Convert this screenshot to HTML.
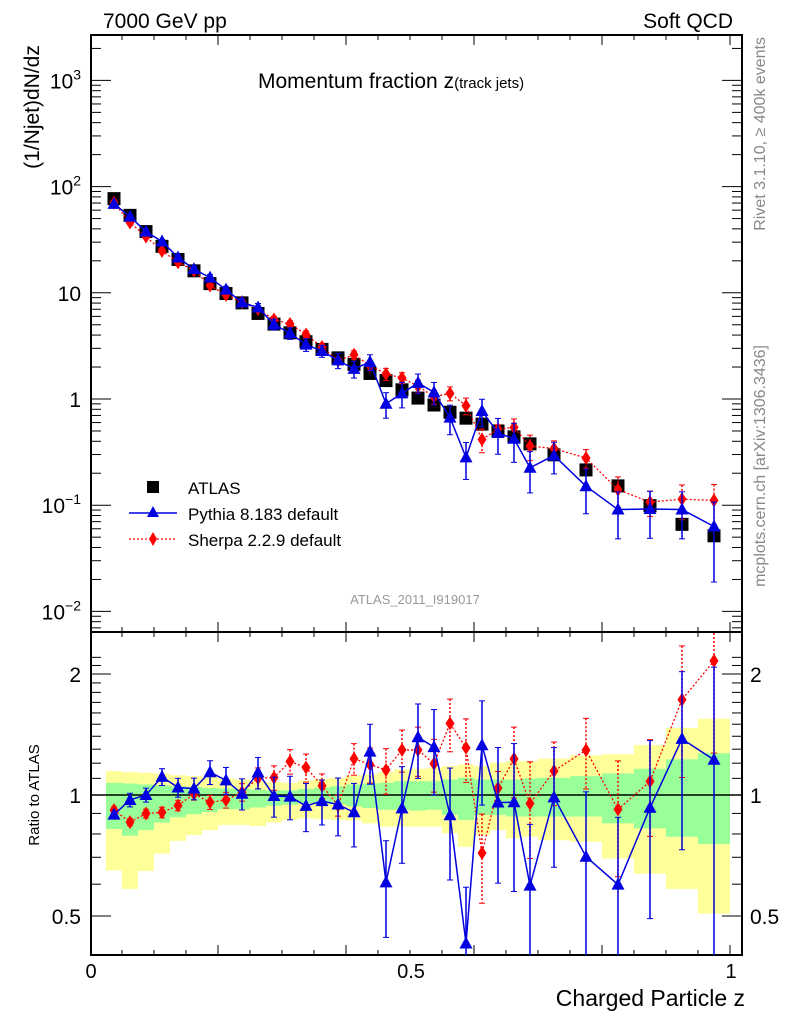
<!DOCTYPE html>
<html><head><meta charset="utf-8"><style>
html,body{margin:0;padding:0;background:#fff}
svg{display:block;font-family:"Liberation Sans",sans-serif}
</style></head><body>
<svg id="chartSvg" width="786" height="1024" viewBox="0 0 786 1024" xmlns="http://www.w3.org/2000/svg">
<defs>
<clipPath id="clipM"><rect x="91" y="35" width="651" height="597"/></clipPath>
<clipPath id="clipR"><rect x="91" y="632" width="651" height="323"/></clipPath>
</defs>
<g id="bandsLayer"></g>
<g id="axesLayer"></g>
<g id="marksLayer"></g>
<text x="103" y="28" font-size="21">7000 GeV pp</text>
<text x="733" y="28" font-size="21" text-anchor="end">Soft QCD</text>
<text x="258" y="88" font-size="21">Momentum fraction z<tspan font-size="15">(track jets)</tspan></text>
<text transform="translate(39,107) rotate(-90)" font-size="21" text-anchor="middle">(1/Njet)dN/dz</text>
<text transform="translate(39,795) rotate(-90)" font-size="15" text-anchor="middle">Ratio to ATLAS</text>
<text x="745" y="1006" font-size="23" text-anchor="end">Charged Particle z</text>
<text x="415" y="604" font-size="13" fill="#999" text-anchor="middle">ATLAS_2011_I919017</text>
<text transform="translate(765,37) rotate(-90)" font-size="16" fill="#888" text-anchor="end">Rivet 3.1.10, ≥ 400k events</text>
<text transform="translate(765,345) rotate(-90)" font-size="16" fill="#888" text-anchor="end">mcplots.cern.ch [arXiv:1306.3436]</text>
<g>
  <rect x="147" y="481" width="12" height="12" fill="#000"/>
  <text x="188" y="494" font-size="17">ATLAS</text>
  <line x1="129" y1="513" x2="177" y2="513" stroke="#0000e0" stroke-width="1.5"/>
  <path d="M153,506 L159,517 L147,517 Z" fill="#0000e0"/>
  <text x="188" y="520" font-size="17">Pythia 8.183 default</text>
  <line x1="129" y1="539" x2="177" y2="539" stroke="#f00" stroke-width="1.3" stroke-dasharray="2,2"/>
  <path d="M153,532 L157,539 L153,546 L149,539 Z" fill="#f00"/>
  <text x="188" y="546" font-size="17">Sherpa 2.2.9 default</text>
</g>
</svg>
<script>
var zBinEdges=[0.025,0.05,0.075,0.1,0.125,0.15,0.175,0.2,0.225,0.25,0.275,0.3,0.325,0.35,0.375,0.4,0.425,0.45,0.475,0.5,0.525,0.55,0.575,0.6,0.625,0.65,0.675,0.7,0.75,0.8,0.85,0.9,0.95,1.0];
var atlasVals=[77,53.6,37.7,27.4,20.6,16.1,12.2,9.84,8.04,6.39,5.07,4.2,3.46,2.93,2.44,2.12,1.74,1.49,1.22,1.02,0.878,0.75,0.66,0.58,0.50,0.44,0.378,0.298,0.215,0.152,0.099,0.066,0.0515];
var pythiaVals=[68.8,52.1,37.7,30.4,21.5,16.7,13.9,10.7,8.10,7.27,5.04,4.16,3.25,2.83,2.31,1.92,2.23,0.903,1.13,1.42,1.155,0.668,0.282,0.771,0.479,0.422,0.225,0.294,0.151,0.091,0.092,0.091,0.063];
var pythiaRelErr=[0.015,0.039,0.04,0.048,0.054,0.062,0.068,0.077,0.089,0.09,0.114,0.124,0.137,0.128,0.164,0.18,0.17,0.27,0.27,0.21,0.24,0.31,0.38,0.29,0.37,0.4,0.42,0.33,0.45,0.47,0.47,0.47,0.7];
var sherpaVals=[70.6,45.9,33.9,24.8,19.4,16.2,11.7,9.56,8.17,7.04,5.60,5.09,4.05,3.09,2.30,2.61,2.07,1.72,1.58,1.32,1.05,1.13,0.865,0.416,0.52,0.541,0.360,0.342,0.278,0.140,0.107,0.114,0.111];
var sherpaRelErr=[0.02,0.02,0.025,0.03,0.03,0.035,0.04,0.045,0.05,0.06,0.07,0.07,0.08,0.07,0.06,0.09,0.1,0.13,0.12,0.14,0.15,0.15,0.18,0.25,0.1,0.2,0.27,0.18,0.2,0.32,0.27,0.36,0.41];
var yellowHi=[1.147,1.14,1.136,1.131,1.12,1.114,1.108,1.099,1.093,1.082,1.076,1.072,1.086,1.097,1.103,1.118,1.125,1.14,1.158,1.162,1.169,1.18,1.192,1.18,1.203,1.215,1.215,1.232,1.255,1.263,1.331,1.468,1.547];
var yellowLo=[0.649,0.584,0.647,0.715,0.769,0.795,0.818,0.842,0.842,0.837,0.854,0.867,0.875,0.87,0.867,0.864,0.85,0.834,0.834,0.834,0.834,0.803,0.743,0.795,0.818,0.78,0.787,0.772,0.765,0.695,0.637,0.584,0.507];
var greenHi=[1.072,1.068,1.062,1.058,1.051,1.047,1.041,1.037,1.035,1.031,1.027,1.027,1.035,1.043,1.051,1.062,1.068,1.072,1.082,1.082,1.082,1.093,1.103,1.093,1.093,1.093,1.099,1.103,1.114,1.131,1.162,1.227,1.27];
var greenLo=[0.823,0.792,0.818,0.854,0.88,0.896,0.907,0.922,0.922,0.931,0.94,0.946,0.955,0.951,0.947,0.937,0.928,0.919,0.919,0.915,0.919,0.892,0.867,0.892,0.892,0.884,0.884,0.884,0.884,0.85,0.826,0.787,0.755];
var mainTickLabels=["10^-2","10^-1","1","10","10^2","10^3"];
var ratioTickVals=[0.5,1,2];
var xTickVals=[0,0.5,1];

(function(){
var SVGNS="http://www.w3.org/2000/svg";
var PL=91,PR=742,MT=35,MB=632,RT=632,RB=955;
function sx(z){return 90+640*z;}
function sy(v){return 399-106.2*Math.log10(v);}
function sr(r){return 795-402*Math.log10(r);}
function clampR(y){return Math.max(RT,Math.min(RB,y));}
function mk(tag,attrs,parent){var e=document.createElementNS(SVGNS,tag);for(var k in attrs){e.setAttribute(k,attrs[k]);}parent.appendChild(e);return e;}
var gB=document.getElementById('bandsLayer'),gG=document.getElementById('axesLayer'),gM=document.getElementById('marksLayer');
var centers=[];
for(var i=0;i<atlasVals.length;i++){centers.push((zBinEdges[i]+zBinEdges[i+1])/2);}

for(var i=0;i<atlasVals.length;i++){
  var x0=sx(zBinEdges[i]),x1=sx(zBinEdges[i+1]);
  var yt=clampR(sr(yellowHi[i])),yb=clampR(sr(yellowLo[i]));
  var e=mk('rect',{x:x0,y:yt,width:x1-x0,height:yb-yt,fill:'#ffff99'},gB);
  
  
  var gt=clampR(sr(greenHi[i])),gb=clampR(sr(greenLo[i]));
  e=mk('rect',{x:x0,y:gt,width:x1-x0,height:gb-gt,fill:'#99ff99'},gB);
  
  
}

var fr=mk('rect',{x:PL,y:MT,width:PR-PL,height:MB-MT,fill:'none',stroke:'#000','stroke-width':2},gG);


fr=mk('rect',{x:PL,y:RT,width:PR-PL,height:RB-RT,fill:'none',stroke:'#000','stroke-width':2},gG);


var un=mk('line',{x1:PL,y1:sr(1),x2:PR,y2:sr(1),stroke:'#000','stroke-width':1.5},gG);



var sides=[[MB,-1],[MT,1],[RB,-1],[RT,1]];
for(var k=0;k<=20;k++){
  var x=sx(k*0.05);if(x<PL||x>PR)continue;
  var len=(k%4===0)?10:5;
  for(var s=0;s<sides.length;s++){
    var t=mk('line',{x1:x,y1:sides[s][0],x2:x,y2:sides[s][0]+sides[s][1]*len,stroke:'#000','stroke-width':1},gG);
    
    
  }
}
for(var i=0;i<xTickVals.length;i++){
  var t=mk('text',{x:sx(xTickVals[i])+1,y:978,'font-size':20,'text-anchor':'middle'},gG);
  t.textContent=String(xTickVals[i]);
  
  
}
for(var d=-3;d<=3;d++){for(var m=1;m<10;m++){
  var y=sy(m*Math.pow(10,d));if(y<MT||y>MB)continue;
  var len=m===1?20:10;
  var t=mk('line',{x1:PL,y1:y,x2:PL+len,y2:y,stroke:'#000','stroke-width':1},gG);
  
  
  t=mk('line',{x1:PR,y1:y,x2:PR-len,y2:y,stroke:'#000','stroke-width':1},gG);
  
  
}}
for(var i=0;i<mainTickLabels.length;i++){
  var lbl=mainTickLabels[i];var p=lbl.split('^');var v=p.length>1?Math.pow(10,Number(p[1])):Number(lbl);
  var t=mk('text',{x:81,y:sy(v)+8,'font-size':21,'text-anchor':'end'},gG);
  
  
  if(p.length>1){t.appendChild(document.createTextNode(p[0]));var sp=mk('tspan',{'font-size':14,dy:-9},t);sp.textContent=p[1].replace('-','\u2212');}
  else{t.textContent=lbl;}
}
var rt=[0.5,0.6,0.7,0.8,0.9,1,1.1,1.2,1.3,1.4,1.5,1.6,1.7,1.8,1.9,2,2.1,2.2];
for(var i=0;i<rt.length;i++){
  var y=sr(rt[i]);if(y<RT||y>RB)continue;var len=ratioTickVals.indexOf(rt[i])>=0?20:10;
  var t=mk('line',{x1:PL,y1:y,x2:PL+len,y2:y,stroke:'#000','stroke-width':1},gG);
  
  
  t=mk('line',{x1:PR,y1:y,x2:PR-len,y2:y,stroke:'#000','stroke-width':1},gG);
  
  
}
for(var i=0;i<ratioTickVals.length;i++){
  var r=ratioTickVals[i];
  var t=mk('text',{x:81,y:sr(r)+8,'font-size':21,'text-anchor':'end'},gG);t.textContent=String(r);
  
  
  t=mk('text',{x:750,y:sr(r)+8,'font-size':21},gG);t.textContent=String(r);
  
  
}

function tri(x,y,c,p){return mk('path',{d:'M'+x+','+(y-7)+' L'+(x+6.5)+','+(y+5)+' L'+(x-6.5)+','+(y+5)+' Z',fill:c},p);}
function dia(x,y,c,p){return mk('path',{d:'M'+x+','+(y-7)+' L'+(x+4.5)+','+y+' L'+x+','+(y+7)+' L'+(x-4.5)+','+y+' Z',fill:c},p);}
function series(vals,errs,isRatio,kind){
  var col=kind==='pythia'?'#0000e0':'#f00';
  var g=mk('g',{'clip-path':isRatio?'url(#clipR)':'url(#clipM)'},gM);
  var ys=[],pts=[];
  for(var i=0;i<vals.length;i++){ys.push(isRatio?sr(vals[i]):sy(vals[i]));pts.push(sx(centers[i])+','+ys[i]);}
  var la={points:pts.join(' '),fill:'none',stroke:col,'stroke-width':kind==='pythia'?1.5:1.3};
  if(kind!=='pythia')la['stroke-dasharray']='2,2';
  var pl=mk('polyline',la,g);
  
  
  for(var i=0;i<vals.length;i++){
    var x=sx(centers[i]),v=vals[i];
    var hi=v*(1+errs[i]),lo=Math.max(v*(1-errs[i]),1e-6);
    var y1=isRatio?sr(hi):sy(hi),y2=isRatio?sr(lo):sy(lo);
    var ea={x1:x,y1:y1,x2:x,y2:y2,stroke:col,'stroke-width':1.5};
    if(kind!=='pythia')ea['stroke-dasharray']='2,2';
    var eb=mk('line',ea,g);
    
    
    var caps=[y1,y2];
    for(var c=0;c<2;c++){
      var cp=mk('line',{x1:x-3,y1:caps[c],x2:x+3,y2:caps[c],stroke:col,'stroke-width':1},g);
      
      
    }
    var mm=kind==='pythia'?tri(x,ys[i],col,g):dia(x,ys[i],col,g);
    
    
  }
}
for(var i=0;i<atlasVals.length;i++){
  var rr=mk('rect',{x:sx(centers[i])-6.5,y:sy(atlasVals[i])-6.5,width:13,height:13,fill:'#000'},gM);
  
  
}
series(sherpaVals,sherpaRelErr,false,'sherpa');
series(pythiaVals,pythiaRelErr,false,'pythia');
var sr2=[],pr2=[];
for(var i=0;i<atlasVals.length;i++){sr2.push(sherpaVals[i]/atlasVals[i]);pr2.push(pythiaVals[i]/atlasVals[i]);}
series(sr2,sherpaRelErr,true,'sherpa');
series(pr2,pythiaRelErr,true,'pythia');
})();
</script>
</body></html>
